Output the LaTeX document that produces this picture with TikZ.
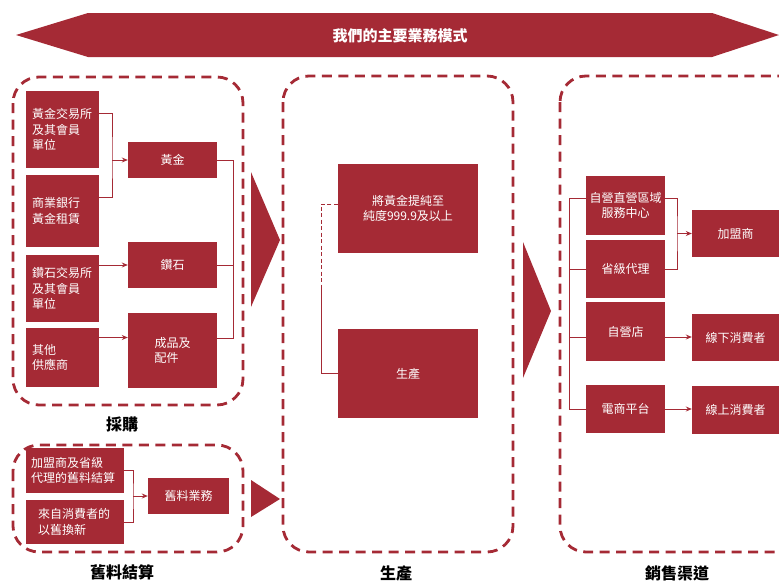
\documentclass[tikz,border=0pt]{standalone}
\usepackage{fontspec}
\newfontfamily\cjk{Noto Sans CJK TC}
\usetikzlibrary{arrows.meta}
\definecolor{jred}{RGB}{165,42,53}
\begin{document}
\begin{tikzpicture}[x=1pt,y=-1pt,
  box/.style={fill=jred, text=white, inner sep=0pt, align=left,
    font=\cjk\fontsize{12}{15.5}\selectfont},
  grp/.style={draw=jred, line width=2.8pt, dash pattern=on 10pt off 6.5pt, rounded corners=26pt},
  link/.style={draw=jred, line width=1pt},
  arr/.style={link, -{Stealth[length=6pt,width=5pt]}},
  lbl/.style={font=\cjk\bfseries\fontsize{16}{18}\selectfont, text=black},
  ttl/.style={font=\cjk\bfseries\fontsize{15}{18}\selectfont, text=white}]
\useasboundingbox (0,0) rectangle (779,581);
\clip (0,0) rectangle (779,581);

% banner
\fill[jred] (16,35) -- (88,13) -- (712,13) -- (779,35) -- (712,57) -- (88,57) -- cycle;
\node[ttl] (title) at (400,36) {我們的主要業務模式};

% groups
\draw[grp] (13,77) rectangle (243,405);
\draw[grp] (13,445) rectangle (243,552);
\draw[grp] (283,76) rectangle (513,552);
\draw[grp] (560,76) rectangle (805,552);
\node[lbl] (lbuy) at (122,424) {採購};
\node[lbl] (lold) at (122,572) {舊料結算};
\node[lbl] (lprod) at (396,573) {生產};
\node[lbl] (lsale) at (677,573) {銷售渠道};

% purchasing
\node[box, minimum width=73, minimum height=77, text width=61] (b1) at (62.5,129.5) {黃金交易所\\及其會員\\單位};
\node[box, minimum width=73, minimum height=72, text width=61] (b2) at (62.5,211) {商業銀行\\黃金租賃};
\node[box, minimum width=73, minimum height=67, text width=61] (b3) at (62.5,288.5) {鑽石交易所\\及其會員\\單位};
\node[box, minimum width=73, minimum height=59, text width=61] (b4) at (62.5,357.5) {其他\\供應商};
\node[box, minimum width=89, minimum height=36] (m1) at (172.5,160) {黃金};
\node[box, minimum width=89, minimum height=46] (m2) at (172.5,265) {鑽石};
\node[box, minimum width=89, minimum height=75] (m3) at (172.5,350.5) {成品及\\配件};

\coordinate (jg) at (112,160);
\draw[link] ([yshift=16.5pt]b1.east) -| (jg) |- ([yshift=14pt]b2.east);
\draw[arr] (jg) -- (m1.west);
\draw[arr] (b3.east |- m2.west) -- (m2.west);
\coordinate (p4) at ([yshift=20pt]b4.east);
\draw[arr] (p4) -- (p4 -| m3.west);
\coordinate (busa) at (233,0);
\coordinate (p3) at ([yshift=12.5pt]m3.east);
\draw[link] (m1.east) -| (busa |- p3) -- (p3);
\draw[link] (m2.east) -- (m2.east -| busa);
\fill[jred] (251,172) -- (280,240) -- (251,307) -- cycle;

% old gold
\node[box, minimum width=98, minimum height=45, text width=88] (o1) at (75,470.5) {加盟商及省級\\代理的舊料結算};
\node[box, minimum width=98, minimum height=44, text width=74] (o2) at (75,522) {來自消費者的\\以舊換新};
\node[box, minimum width=81, minimum height=36] (ob) at (188.5,496) {舊料業務};
\coordinate (jo) at (133,496);
\draw[link] (o1.east) -| (jo) |- (o2.east);
\draw[arr] (jo) -- (ob.west);
\fill[jred] (251,480) -- (280,499) -- (251,517) -- cycle;

% production
\node[box, minimum width=140, minimum height=89, align=center] (p1) at (408,208.5) {將黃金提純至\\純度999.9及以上};
\node[box, minimum width=140, minimum height=89] (p2) at (408,373.5) {生產};
\coordinate (pd) at ([yshift=4.5pt]p1.west);
\coordinate (pm) at (321,287);
\draw[link, dash pattern=on 4pt off 2.5pt] (pd) -| (pm);
\draw[link] (pm) |- (p2.west);
\fill[jred] (523,242) -- (551,311) -- (523,378) -- cycle;

% sales
\node[box, minimum width=79, minimum height=59, align=center] (r1) at (625.5,205.5) {自營直營區域\\服務中心};
\node[box, minimum width=79, minimum height=58] (r2) at (625.5,269) {省級代理};
\node[box, minimum width=79, minimum height=59] (r3) at (625.5,331.5) {自營店};
\node[box, minimum width=79, minimum height=48] (r4) at (625.5,409) {電商平台};
\node[box, minimum width=87, minimum height=47] (c1) at (735.5,233.5) {加盟商};
\node[box, minimum width=87, minimum height=47] (c2) at (735.5,337.5) {線下消費者};
\node[box, minimum width=87, minimum height=48] (c3) at (735.5,410) {線上消費者};

\coordinate (q1) at ([yshift=7.5pt]r1.west);
\coordinate (bl) at (569,0);
\draw[link] (q1) -| (bl |- r4.west) -- (r4.west);
\draw[link] (r2.west) -- (r2.west -| bl);
\coordinate (q3) at ([yshift=-5.5pt]r3.west);
\draw[link] (q3) -- (q3 -| bl);
\coordinate (s1) at ([yshift=7.5pt]r1.east);
\coordinate (jr) at (677,233.5);
\draw[link] (s1) -| (jr) |- (r2.east);
\draw[arr] (jr) -- (c1.west);
\coordinate (s3) at ([yshift=-5.5pt]r3.east);
\draw[arr] (s3) -- (s3 -| c2.west);
\draw[arr] (r4.east) -- (r4.east -| c3.west);
\end{tikzpicture}
\end{document}
